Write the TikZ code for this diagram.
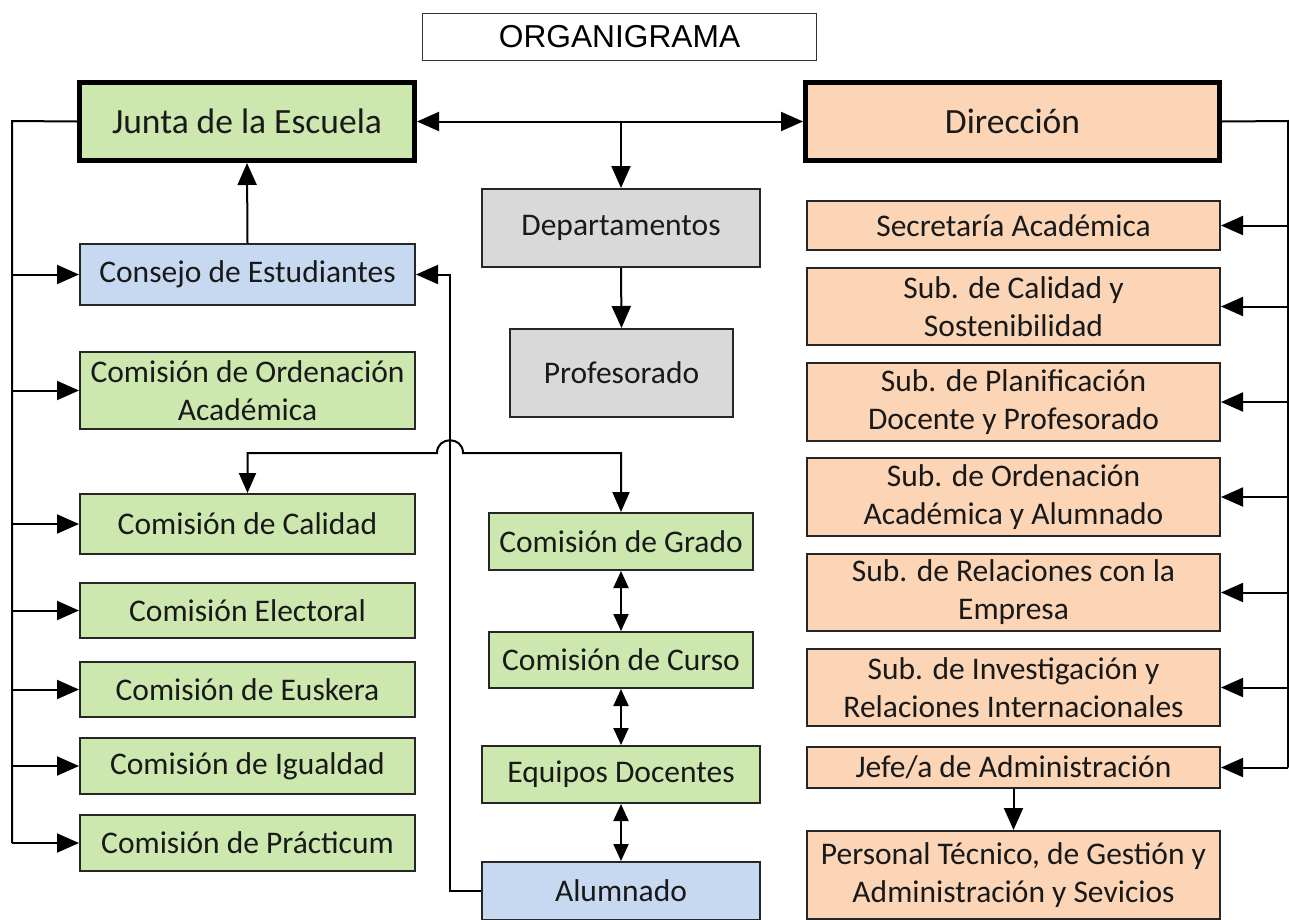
\documentclass[tikz,border=0pt]{standalone}
\usepackage{fontspec}
\setmainfont{Carlito}
\newfontfamily\titlefont{Liberation Sans}
\usetikzlibrary{arrows.meta}

\begin{document}
\begin{tikzpicture}[x=1pt,y=-1pt,
  box/.style={draw=black!85,line width=2pt,align=center,inner sep=0pt,text=black!90,font=\fontsize{31.5}{38}\selectfont},
  greenbox/.style={box,fill=leaf},
  bluebox/.style={box,fill=sky},
  graybox/.style={box,fill=ash},
  orangebox/.style={box,fill=peach},
  headbox/.style={line width=5pt,draw=black,font=\fontsize{35.5}{40}\selectfont},
  link/.style={line width=2pt,-{Triangle[length=22pt,width=19pt]}},
  dlink/.style={line width=2pt,{Triangle[length=17pt,width=15pt]}-{Triangle[length=17pt,width=15pt]}}]
\definecolor{leaf}{HTML}{CCE8AE}
\definecolor{sky}{HTML}{C6D9F0}
\definecolor{ash}{HTML}{D9D9D9}
\definecolor{peach}{HTML}{FBD5B5}
\useasboundingbox (0,0) rectangle (1289,919);
\coordinate (lbus) at (12,121);
\coordinate (rbus) at (1288,121);
\coordinate (hopL) at (437,453);
\coordinate (hopR) at (463,453);
\node[draw=black!80,line width=1.5pt,minimum width=394pt,minimum height=47pt,font=\titlefont\fontsize{31.7}{36}\selectfont] (title) at (619.5,37) {ORGANIGRAMA};
\node[greenbox,headbox,minimum width=335pt,minimum height=78pt] (junta) at (247,121.5) {Junta de la Escuela};
\node[orangebox,headbox,minimum width=414pt,minimum height=78pt] (direc) at (1012.5,121.5) {Dirección};
\node[bluebox,minimum width=335pt,minimum height=61pt] (consejo) at (247.5,274.5) {Consejo de Estudiantes};
\node[graybox,minimum width=278pt,minimum height=78pt] (depto) at (621,228) {Departamentos};
\node[graybox,minimum width=223pt,minimum height=88pt] (prof) at (621.5,373) {Profesorado};
\node[greenbox,minimum width=264pt,minimum height=57pt] (grado) at (621,541.5) {Comisión de Grado};
\node[greenbox,minimum width=264pt,minimum height=56pt] (curso) at (621,660) {Comisión de Curso};
\node[greenbox,minimum width=278pt,minimum height=57pt] (equipos) at (621,774.5) {Equipos Docentes};
\node[bluebox,minimum width=278pt,minimum height=58pt] (alumnado) at (621,891) {Alumnado};
\node[orangebox,minimum width=413pt,minimum height=88pt] (personal) at (1013.5,875) {Personal Técnico, de Gestión y\\Administración y Sevicios};
% comisiones de la junta
\foreach \nm/\txt/\yy/\hh in {ordacad/{Comisión de Ordenación\\Académica}/390.5/77,
  calidad/{Comisión de Calidad}/524/60,electoral/{Comisión Electoral}/610.5/55,
  euskera/{Comisión de Euskera}/689.5/55,igualdad/{Comisión de Igualdad}/766/56,
  practicum/{Comisión de Prácticum}/843/56}
  { \node[greenbox,minimum width=335pt,minimum height=\hh pt] (\nm) at (247.5,\yy) {\txt};}
% cargos de la direccion
\foreach \nm/\txt/\yy/\hh in {secre/{Secretaría Académica}/225.5/49,
  sostenib/{Sub. de Calidad y\\Sostenibilidad}/306.5/77,
  planif/{Sub. de Planificación\\Docente y Profesorado}/402/78,
  ordalum/{Sub. de Ordenación\\Académica y Alumnado}/497/78,
  empresa/{Sub. de Relaciones con la\\Empresa}/592.5/77,
  investig/{Sub. de Investigación y\\Relaciones Internacionales}/687.5/77,
  jefe/{Jefe/a de Administración}/767.5/41}
  { \node[orangebox,minimum width=413pt,minimum height=\hh pt] (\nm) at (1013.5,\yy) {\txt};
    \draw[link] (rbus |- \nm.east) -- (\nm.east);}
\draw[line width=2pt] (junta.west) -- (lbus) -- (lbus |- practicum.west);
\foreach \nm in {consejo,ordacad,calidad,electoral,euskera,igualdad,practicum}
  \draw[link] (lbus |- \nm.west) -- (\nm.west);
\draw[line width=2pt] (direc.east) -- (rbus) -- (rbus |- jefe.east);
\draw[link] (consejo.north) -- (junta.south);
\draw[line width=2pt,{Triangle[length=22pt,width=19pt]}-{Triangle[length=22pt,width=19pt]}] (junta.east) -- (direc.west);
\draw[link] (junta.east -| depto.north) -- (depto.north);
\draw[link] (depto.south) -- (prof.north);
\draw[link] (alumnado.west) -- ++(-31,0) |- (consejo.east);
\draw[line width=2pt,{Triangle[length=20pt,width=17pt]}-{Triangle[length=20pt,width=17pt]}] (calidad.north) |- (hopL) .. controls +(0,-17) and +(0,-17) .. (hopR) -| (grado.north);
\draw[dlink] (grado.south) -- (curso.north);
\draw[dlink] (curso.south) -- (equipos.north);
\draw[dlink] (equipos.south) -- (alumnado.north);
\draw[link] (jefe.south) -- (personal.north);
\end{tikzpicture}
\end{document}
